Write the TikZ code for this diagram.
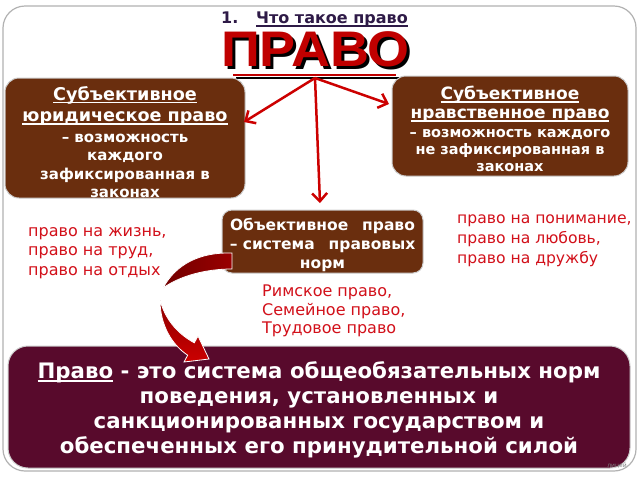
\documentclass[tikz,border=0pt]{standalone}
\usepackage{fontspec}
\setmainfont{DejaVu Sans}
\newfontfamily\pravofont{Liberation Sans}
\usetikzlibrary{arrows.meta}
\definecolor{boxbrown}{RGB}{106,46,14}
\definecolor{boxmaroon}{RGB}{88,10,44}
\definecolor{txtred}{RGB}{210,16,26}
\definecolor{arrred}{RGB}{204,0,0}
\definecolor{pravored}{RGB}{192,0,0}
\definecolor{titlecol}{RGB}{46,26,71}
\newcommand{\fsz}[2]{\fontsize{#1}{#2}\selectfont}
\newcommand{\ulx}[1]{\leavevmode\setbox0\hbox{#1}\rlap{\smash{\vrule height -1.6pt depth 3.1pt width \wd0}}\box0\relax}
\begin{document}
\begin{tikzpicture}[x=1pt,y=-1pt,
  brownbox/.style={fill=boxbrown, draw=white!80!black, line width=1pt, rounded corners=14pt, inner sep=0pt},
  boxtext/.style={text=white, align=center, inner sep=0pt},
  redtext/.style={text=txtred, align=left, anchor=west, inner sep=0pt},
  prongs/.style={draw=arrred, line width=2.5pt, -{Straight Barb[length=8pt,width=15pt]}},
  bigword/.style={font=\pravofont\bfseries\fontsize{50}{50}\selectfont, xscale=1.08, inner sep=0pt},
  titletext/.style={font=\bfseries\fsz{16}{18}, text=titlecol, anchor=base west, inner sep=0pt}
 ]
\useasboundingbox (0,0) rectangle (640,480);
\fill[white] (0,0) rectangle (640,480);
\draw[gray!60, line width=1.2pt, rounded corners=22pt] (3,6) rectangle (636,471);

% title
\node[titletext] (tnum) at (221,23.5) {1.};
\node[titletext] (ttxt) at (256,23.5) {\ulx{Что такое право}};

% big word
\node[bigword, text=black] (pravoS) at (318.5,52.5) {ПРАВО};
\node[bigword, text=pravored] (pravo) at (315.5,49.5) {ПРАВО};
\draw[black, line width=2pt] (236,78) -- (399,78);
\draw[pravored, line width=2.5pt] (233,75) -- (396,75);

% boxes
\node[brownbox, minimum width=240pt, minimum height=120pt] (sl) at (125,138) {};
\node[boxtext, font=\bfseries\fsz{15}{18.5}] (slt) at (125,142)
  {{\fsz{17.6}{20}\ulx{Субъективное}}\\[3pt]
   {\fsz{17.6}{20}\ulx{юридическое право}}\\[2pt]
   – возможность\\ каждого\\ зафиксированная в\\ законах};

\node[brownbox, minimum width=236pt, minimum height=100pt] (sn) at (510,126) {};
\node[boxtext, font=\bfseries\fsz{14.5}{17}] (snt) at (510,129)
  {{\fsz{17}{20}\ulx{Субъективное}}\\[2pt]
   {\fsz{17}{20}\ulx{нравственное право}}\\[2pt]
   – возможность каждого\\ не зафиксированная в\\ законах};

\node[brownbox, rounded corners=10pt, minimum width=201pt, minimum height=63pt] (ob) at (322.5,241.5) {};
\node[boxtext, font=\bfseries\fsz{15.5}{19}] (obt) at (322.5,245)
  {Объективное\hspace{0.9em}право\\
   – система\hspace{0.9em}правовых\\ норм};

% arrows from ПРАВО
\coordinate (fork) at (315,78);
\coordinate (tipL) at (244,122);
\coordinate (tipR) at (389,104);
\coordinate (tipD) at (320,203);
\draw[prongs] (fork) -- (tipL);
\draw[prongs] (fork) -- (tipR);
\draw[prongs] (fork) -- (tipD);

% red texts
\node[redtext, font=\fsz{16}{19.5}] (lr) at (28,253) {право на жизнь,\\ право на труд,\\ право на отдых};
\node[redtext, font=\fsz{15.6}{20}] (rr) at (457,241) {право на понимание,\\ право на любовь,\\ право на дружбу};
\node[redtext, font=\fsz{16}{18.5}] (mr) at (262,311) {Римское право,\\ Семейное право,\\ Трудовое право};

% definition box
\node[fill=boxmaroon, draw=white!80!black, line width=1pt, rounded corners=20pt, minimum width=622pt, minimum height=122pt] (def) at (319,407) {};
\node[boxtext, font=\bfseries\fsz{21.3}{25}] (deft) at (319,410)
  {\ulx{Право} - это система общеобязательных норм\\
   поведения, установленных и\\
   санкционированных государством и\\
   обеспеченных его принудительной силой};

% curved arrow
\shadedraw[draw=white, line width=0.8pt, left color=red!45!black, right color=red!60!black]
  (232,253) .. controls (200,252) and (176,264) .. (163,288)
  .. controls (180,276) and (205,269) .. (232,269) -- cycle;
\shadedraw[draw=white, line width=0.8pt, top color=red!55!black, bottom color=arrred]
  (160,300) .. controls (160,325) and (172,345) .. (187.7,355.2)
  -- (184,362) -- (209,359) -- (198,336) -- (194.3,342.8)
  .. controls (180,335) and (166,322) .. (160,300) -- cycle;

% footer
\node[font=\fsz{6}{7}, text=gray, anchor=east, inner sep=0pt] (foot) at (627,466) {лицей};
\end{tikzpicture}
\end{document}
